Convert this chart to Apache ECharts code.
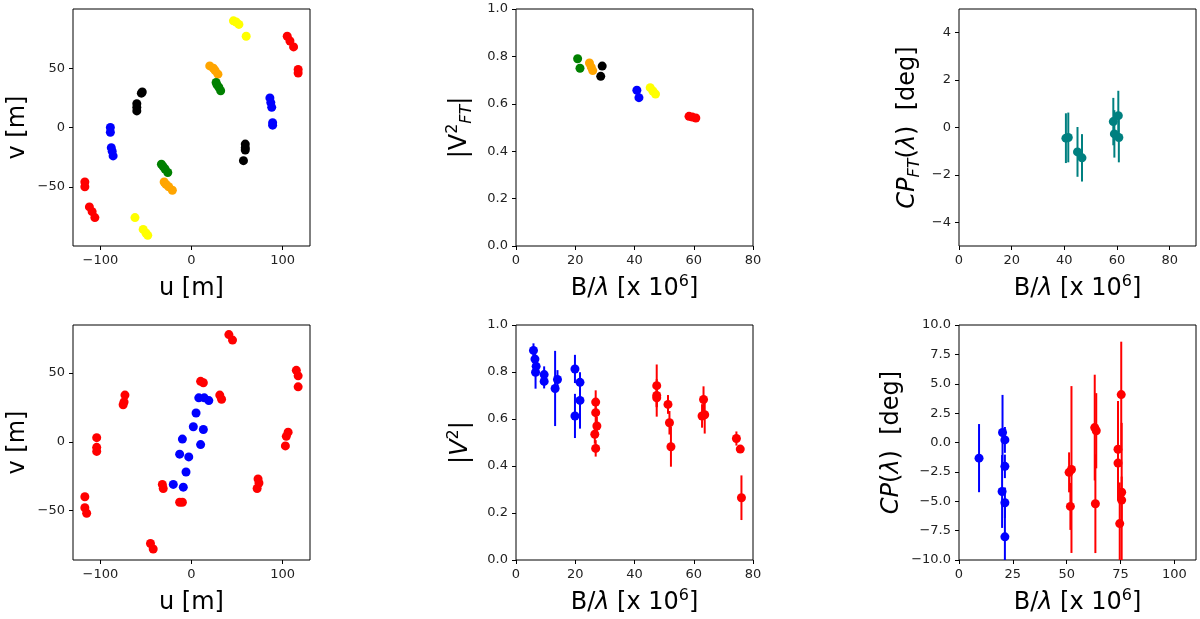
<!DOCTYPE html>
<html>
<head>
<meta charset="utf-8">
<script src="https://cdn.jsdelivr.net/npm/echarts@6/dist/echarts.min.js"></script>
<style>
html, body { margin: 0; padding: 0; background: #fff; }
#chart { width: 1200px; height: 619px; }
</style>
</head>
<body>
<div id="chart"></div>
<script>
// ---- data ----
// top-left: uv coverage of the fringe tracker, one colour per baseline
var uvRed    = [[105, 77], [108, 73], [112, 68], [117, 49], [117, 46], [-117, -46], [-117, -50], [-112, -67], [-109, -71], [-106, -76]];
var uvYellow = [[46, 90], [49, 89], [52, 87], [60, 77], [-62, -76], [-53, -86], [-50, -89], [-48, -91]];
var uvOrange = [[20, 52], [24, 50], [26, 48], [29, 45], [-30, -46], [-28, -48], [-25, -50], [-21, -53]];
var uvGreen  = [[27, 38], [28, 36], [30, 34], [32, 31], [-33, -31], [-31, -33], [-29, -35], [-26, -38]];
var uvBlack  = [[-55, 29], [-54, 30], [-60, 20], [-60, 17], [-60, 14], [57, -28], [59, -14], [59, -17], [59, -19]];
var uvBlue   = [[-89, 0], [-89, -4], [-88, -17], [-87, -20], [-86, -24], [86, 25], [87, 21], [88, 17], [89, 2], [89, 4]];

// top-middle: |V2_FT| vs B/lambda
var vftGreen  = [[20.8, 0.790], [21.6, 0.750]];
var vftOrange = [[24.8, 0.772], [25.4, 0.755], [25.9, 0.740]];
var vftBlack  = [[29.1, 0.759], [28.6, 0.716]];
var vftBlue   = [[40.8, 0.657], [41.5, 0.626]];
var vftYellow = [[45.3, 0.668], [46.2, 0.654], [47.1, 0.641]];
var vftRed    = [[58.4, 0.547], [59.5, 0.544], [60.7, 0.540]];

// top-right: CP_FT [x, value, error]
var cpft = [[40.6, -0.45, 1.05], [41.5, -0.42, 1.05], [45.0, -1.03, 1.05], [46.7, -1.28, 1.0],
            [58.6, 0.25, 1.0], [59.0, -0.27, 1.0], [60.5, 0.50, 1.05], [60.7, -0.42, 1.05]];

// bottom-left: uv coverage of the science channel
var uv2Red  = [[-117, -40], [-117, -48], [-115, -52], [-104, 3], [-104, -4], [-104, -7], [-75, 27], [-74, 29], [-73, 34],
               [-32, -31], [-31, -34], [-45, -74], [-42, -78], [-13, -44], [-10, -44], [10, 44], [13, 43], [31, 34], [33, 31],
               [41, 78], [45, 74], [73, -27], [74, -30], [72, -34], [103, -3], [104, 4], [106, 7], [115, 52], [117, 48], [117, 40]];
var uv2Blue = [[8, 32], [14, 32], [19, 30], [5, 21], [2, 11], [13, 9], [10, -2], [-10, 2], [-13, -9], [-3, -11], [-6, -22], [-20, -31], [-9, -33]];

// bottom-middle: |V2| [x, value, error]
var v2Blue = [[5.9, 0.892, 0.03], [6.4, 0.855, 0.03], [6.8, 0.824, 0.03], [6.6, 0.799, 0.07], [9.5, 0.789, 0.035], [9.5, 0.760, 0.03],
              [13.2, 0.730, 0.16], [14.0, 0.768, 0.04], [19.9, 0.813, 0.06], [19.9, 0.613, 0.094], [21.6, 0.756, 0.04], [21.6, 0.679, 0.12]];
var v2Red  = [[26.9, 0.672, 0.05], [26.9, 0.627, 0.04], [27.3, 0.570, 0.04], [26.6, 0.535, 0.04], [26.9, 0.475, 0.035],
              [47.5, 0.742, 0.09], [47.5, 0.700, 0.05], [47.5, 0.690, 0.08], [51.3, 0.662, 0.04], [51.8, 0.584, 0.05], [52.3, 0.482, 0.085],
              [63.3, 0.683, 0.056], [62.8, 0.613, 0.05], [63.7, 0.618, 0.08], [74.4, 0.517, 0.03], [75.7, 0.472, 0.015], [76.1, 0.265, 0.095]];

// bottom-right: CP [x, value, error]
var cpBlue = [[9.3, -1.33, 2.9], [20.2, 0.85, 3.2], [21.3, 0.22, 1.1], [21.3, -2.03, 1.0], [20.0, -4.17, 3.1], [21.3, -5.13, 1.3], [21.3, -8.03, 2.6]];
var cpRed  = [[51.1, -2.54, 1.7], [52.2, -2.30, 7.1], [51.7, -5.44, 2.0], [63.0, 1.27, 4.5], [63.7, 1.00, 3.2], [63.3, -5.21, 4.2],
              [73.8, -0.57, 4.1], [73.8, -1.75, 3.2], [75.3, 4.08, 4.5], [75.5, -4.23, 5.9], [75.5, -4.90, 2.0], [74.6, -6.90, 3.5]];

// tick labels
var uTicks = [-100, 0, 100];
var vTicks = [-50, 0, 50];
var bTicks90 = [0, 20, 40, 60, 80];
var bTicks110 = [0, 25, 50, 75, 100];
var cpftTicks = [-4, -2, 0, 2, 4];

var FONT = 'DejaVu Sans';
var minus = function (s) { return String(s).replace('-', '\u2212'); };

var richName = {
    it: { fontStyle: 'italic', fontSize: 24, fontFamily: FONT, color: '#000' },
    sup: { fontSize: 16, verticalAlign: 'top', lineHeight: 16, fontFamily: FONT, color: '#000' },
    sub: { fontSize: 16, verticalAlign: 'bottom', lineHeight: 16, fontStyle: 'italic', fontFamily: FONT, color: '#000' }
};
var nameStyle = { fontSize: 24, lineHeight: 30, fontFamily: FONT, color: '#000', rich: richName };

function axis(idx, min, max, name, gap, opts) {
    var a = {
        type: 'value', gridIndex: idx, min: min, max: max,
        name: name, nameLocation: 'middle', nameGap: gap, nameTextStyle: nameStyle,
        splitLine: { show: false },
        axisLine: { show: false, onZero: false },
        axisTick: { show: true, length: 4, lineStyle: { color: '#000' } },
        axisLabel: { fontSize: 13, fontFamily: FONT, color: '#222', margin: 8, formatter: minus }
    };
    if (opts.interval) a.interval = opts.interval;
    if (opts.ticks) {
        a.axisTick.customValues = opts.ticks;
        a.axisLabel.customValues = opts.ticks;
    }
    if (opts.fmt) a.axisLabel.formatter = opts.fmt;
    if (opts.rotate) a.nameRotate = 90;
    return a;
}

var bName = 'B/{it|\u03bb} [x 10{sup|6}]';
var xAxes = [
    axis(0, -130, 130, 'u [m]', 28, { ticks: uTicks }),
    axis(1, 0, 80, bName, 28, { interval: 20 }),
    axis(2, 0, 90, bName, 28, { ticks: bTicks90 }),
    axis(3, -130, 130, 'u [m]', 28, { ticks: uTicks }),
    axis(4, 0, 80, bName, 28, { interval: 20 }),
    axis(5, 0, 110, bName, 28, { ticks: bTicks110 })
];
var oneDec = function (v) { return minus(v.toFixed(1)); };
var yAxes = [
    axis(0, -100, 100, 'v [m]', 40, { ticks: vTicks, rotate: true }),
    axis(1, 0, 1, '|V{sup|2}{sub|FT}|', 41, { interval: 0.2, fmt: oneDec, rotate: true }),
    axis(2, -5, 5, '{it|CP}{sub|FT}({it|\u03bb})  [deg]', 36, { ticks: cpftTicks, rotate: true }),
    axis(3, -86, 85, 'v [m]', 40, { ticks: vTicks, rotate: true }),
    axis(4, 0, 1, '{it||V}{sup|2}{it||}', 40, { interval: 0.2, fmt: oneDec, rotate: true }),
    axis(5, -10, 10, '{it|CP}({it|\u03bb})  [deg]', 36, { interval: 2.5, fmt: oneDec, rotate: true })
];

var gridBox = { show: true, borderColor: '#000', borderWidth: 1, backgroundColor: 'transparent' };
var grids = [
    Object.assign({ left: 73, top: 9, width: 237, height: 237 }, gridBox),
    Object.assign({ left: 516, top: 9, width: 237, height: 237 }, gridBox),
    Object.assign({ left: 959, top: 9, width: 237, height: 237 }, gridBox),
    Object.assign({ left: 73, top: 325, width: 237, height: 237 }, gridBox),
    Object.assign({ left: 516, top: 325, width: 237, height: 237 }, gridBox),
    Object.assign({ left: 959, top: 325, width: 237, height: 237 }, gridBox)
];

function dots(idx, data, color) {
    return {
        type: 'scatter', xAxisIndex: idx, yAxisIndex: idx, data: data,
        symbol: 'circle', symbolSize: 9, itemStyle: { color: color, opacity: 1 },
        silent: true, z: 3
    };
}
function errBars(idx, data, color) {
    return {
        type: 'custom', xAxisIndex: idx, yAxisIndex: idx, data: data, clip: true, silent: true, z: 2,
        encode: { x: 0, y: 1 },
        renderItem: function (params, api) {
            var x = api.value(0), y = api.value(1), e = api.value(2);
            var p1 = api.coord([x, y - e]), p2 = api.coord([x, y + e]);
            return {
                type: 'line',
                shape: { x1: p1[0], y1: p1[1], x2: p2[0], y2: p2[1] },
                style: { stroke: color, lineWidth: 2 }
            };
        }
    };
}

var series = [
    dots(0, uvRed, '#ff0000'), dots(0, uvYellow, '#ffff00'), dots(0, uvOrange, '#ffa500'),
    dots(0, uvGreen, '#008000'), dots(0, uvBlack, '#000000'), dots(0, uvBlue, '#0000ff'),
    dots(1, vftGreen, '#008000'), dots(1, vftOrange, '#ffa500'), dots(1, vftBlack, '#000000'),
    dots(1, vftBlue, '#0000ff'), dots(1, vftYellow, '#ffff00'), dots(1, vftRed, '#ff0000'),
    errBars(2, cpft, '#008080'), dots(2, cpft, '#008080'),
    dots(3, uv2Red, '#ff0000'), dots(3, uv2Blue, '#0000ff'),
    errBars(4, v2Blue, '#0000ff'), dots(4, v2Blue, '#0000ff'),
    errBars(4, v2Red, '#ff0000'), dots(4, v2Red, '#ff0000'),
    errBars(5, cpBlue, '#0000ff'), dots(5, cpBlue, '#0000ff'),
    errBars(5, cpRed, '#ff0000'), dots(5, cpRed, '#ff0000')
];

var chart = echarts.init(document.getElementById('chart'), null, { renderer: 'canvas' });
chart.setOption({
    backgroundColor: '#fff',
    animation: false,
    grid: grids,
    xAxis: xAxes,
    yAxis: yAxes,
    series: series
});
</script>
</body>
</html>
